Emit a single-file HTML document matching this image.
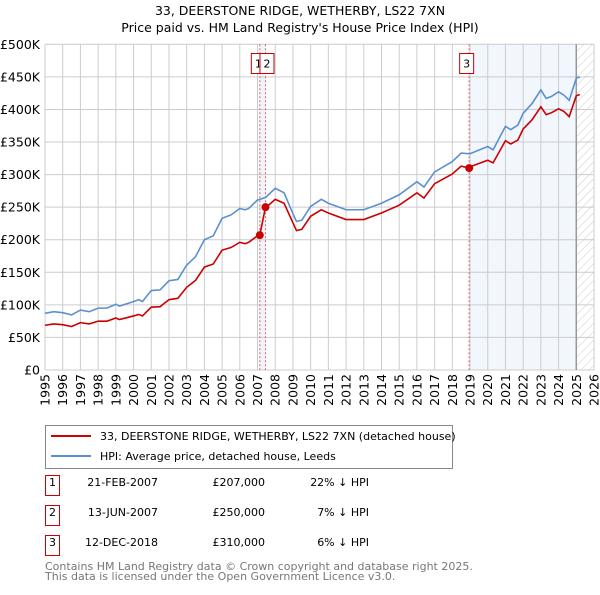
<!DOCTYPE html>
<html><head><meta charset="utf-8"><style>
body{margin:0;background:#fff;width:600px;height:590px;overflow:hidden;font-family:"Liberation Sans","DejaVu Sans",sans-serif}
svg text{font-family:"DejaVu Sans","Liberation Sans",sans-serif}
</style></head><body>
<svg id="c" width="600" height="590" xmlns="http://www.w3.org/2000/svg">
<defs><pattern id="hatch" patternUnits="userSpaceOnUse" width="6" height="6" patternTransform="rotate(45)"><line x1="0" y1="0" x2="0" y2="6" stroke="#ccc" stroke-width="1"/></pattern></defs>
<text x="300" y="15" text-anchor="middle" font-size="12.5">33, DEERSTONE RIDGE, WETHERBY, LS22 7XN</text>
<text x="300" y="32" text-anchor="middle" font-size="12.5">Price paid vs. HM Land Registry's House Price Index (HPI)</text>
<g id="plot"></g>
<rect x="45.5" y="425.5" width="407" height="43" fill="#fff" stroke="#888"/>
<line x1="51" y1="436" x2="91" y2="436" stroke="#cc0000" stroke-width="2"/>
<text x="100" y="440" font-size="11">33, DEERSTONE RIDGE, WETHERBY, LS22 7XN (detached house)</text>
<line x1="51" y1="456" x2="91" y2="456" stroke="#5b8fd4" stroke-width="2"/>
<text x="100" y="460" font-size="11">HPI: Average price, detached house, Leeds</text>
<g id="tbl" font-size="11"></g>
<text x="45" y="570" font-size="11" fill="#777">Contains HM Land Registry data © Crown copyright and database right 2025.</text>
<text x="45" y="580" font-size="11" fill="#777">This data is licensed under the Open Government Licence v3.0.</text>
</svg>
<script>
const years=[1995,1995.5,1996,1996.5,1997,1997.5,1998,1998.5,1999,1999.2,2000,2000.3,2000.5,2001,2001.5,2002,2002.5,2003,2003.5,2004,2004.5,2005,2005.5,2006,2006.3,2006.5,2007,2007.13,2007.45,2007.5,2008,2008.5,2009,2009.2,2009.5,2010,2010.6,2011,2012,2013,2014,2015,2016,2016.4,2017,2018,2018.5,2018.95,2019,2020,2020.3,2021,2021.3,2021.7,2022,2022.5,2023,2023.3,2023.6,2024,2024.3,2024.6,2025,2025.2];
const hpi=[87,89.5,88,84.5,92,89.5,95,95,101,98,105,108,105,122,123,137,139,161,174,200,206,233,238,248,246,248,261,262,265,266,279,272,240,228,230,251,262,256,246,246,256,269,289,281,304,320,333,332,332,343,338,374,369,376,394,409,430,417,420,427,422,414,448,450];
const price=[68.7,70.7,69.5,66.8,72.7,70.7,75,75,79.8,77.4,83,85.3,83,96.4,97.2,108,110,127,137.5,158,162.7,184,188,196,194,196,206,207,250,250,262,256,226,214,216,236,246,241,231,231,241,253,272,264,286,301,313,310,312,322,318,352,347,353,370,384,404,392,395,401,397,389,421,423];
const yTicks=[0,50,100,150,200,250,300,350,400,450,500];
const yLabels=["£0","£50K","£100K","£150K","£200K","£250K","£300K","£350K","£400K","£450K","£500K"];
const xTicks=[1995,1996,1997,1998,1999,2000,2001,2002,2003,2004,2005,2006,2007,2008,2009,2010,2011,2012,2013,2014,2015,2016,2017,2018,2019,2020,2021,2022,2023,2024,2025,2026];
const saleYears=[2007.13,2007.45,2018.95];
const salePrices=[207,250,310];
const saleDates=["21-FEB-2007","13-JUN-2007","12-DEC-2018"];
const saleAmounts=["£207,000","£250,000","£310,000"];
const saleDiffs=["22% ↓ HPI","7% ↓ HPI","6% ↓ HPI"];
const dataEnd=2025.0;
const X0=45,X1=594,Y0=370,Y1=44.3;
const sx=v=>X0+(v-1995)/(2026-1995)*(X1-X0);
const sy=v=>Y0-(v/500)*(Y0-Y1);
const NS="http://www.w3.org/2000/svg";
const g=document.getElementById('plot');
function mk(t,a,p){const e=document.createElementNS(NS,t);for(const k in a)e.setAttribute(k,a[k]);(p||g).appendChild(e);return e;}
let e;
e=mk('rect',{x:sx(saleYears[0]),y:Y1,width:sx(saleYears[1])-sx(saleYears[0]),height:Y0-Y1,fill:'#eef3fc'});


e=mk('rect',{x:sx(saleYears[2]),y:Y1,width:sx(dataEnd)-sx(saleYears[2]),height:Y0-Y1,fill:'#f2f6fd'});


e=mk('rect',{x:sx(dataEnd),y:Y1,width:X1-sx(dataEnd),height:Y0-Y1,fill:'url(#hatch)'});


yTicks.forEach((t,i)=>{
 e=mk('line',{x1:X0,x2:X1,y1:sy(t),y2:sy(t),stroke:'#ccc'});
 
 
 e=mk('text',{x:40,y:sy(t)+4.5,'text-anchor':'end','font-size':12.5});
 e.textContent=yLabels[i];
 
 
});
xTicks.forEach(t=>{
 e=mk('line',{x1:sx(t),x2:sx(t),y1:Y1,y2:Y0,stroke:'#ccc'});
 
 
 const x=sx(t)+4.5;
 e=mk('text',{x:x,y:374,'text-anchor':'end','font-size':12.5,transform:`rotate(-90 ${x} 374)`});
 e.textContent=t;
 
 
});
e=mk('line',{x1:sx(dataEnd),x2:sx(dataEnd),y1:Y1,y2:Y0,stroke:'#999','stroke-width':1.5});


saleYears.forEach((s,i)=>{
 e=mk('line',{x1:sx(s),x2:sx(s),y1:Y1,y2:Y0,stroke:'#e06060','stroke-dasharray':'2,2'});
 
 
});
e=mk('polyline',{points:years.map((y,i)=>sx(y)+','+sy(hpi[i])).join(' '),fill:'none',stroke:'#5b8fd4','stroke-width':1.6});


e=mk('polyline',{points:years.map((y,i)=>sx(y)+','+sy(price[i])).join(' '),fill:'none',stroke:'#cc0000','stroke-width':1.6});


saleYears.forEach((s,i)=>{
 e=mk('circle',{cx:sx(s),cy:sy(salePrices[i]),r:4,fill:'#cc0000'});
 
 
});
const lblX=[sx(saleYears[0])-9,sx(saleYears[1])-6,sx(saleYears[2])-10];
saleYears.forEach((s,i)=>{
 e=mk('rect',{x:lblX[i]+0.5,y:53.5,width:14,height:20,fill:'#fff',stroke:'#cc0000'});
 
 
 e=mk('text',{x:lblX[i]+7.5,y:67.5,'text-anchor':'middle','font-size':11});
 e.textContent=String(i+1);
 
 
});
const tb=document.getElementById('tbl');
const rowY=[485,515,545];
saleDates.forEach((d,i)=>{
 const y=rowY[i];
 e=mk('rect',{x:45.5,y:y-9.5,width:14,height:20,fill:'#fff',stroke:'#cc0000'},tb);
 
 
 e=mk('text',{x:52.5,y:y+1,'text-anchor':'middle'},tb);e.textContent=String(i+1);
 
 
 e=mk('text',{x:158,y:y+1,'text-anchor':'end'},tb);e.textContent=d;
 
 
 e=mk('text',{x:265,y:y+1,'text-anchor':'end'},tb);e.textContent=saleAmounts[i];
 
 
 e=mk('text',{x:369,y:y+1,'text-anchor':'end'},tb);e.textContent=saleDiffs[i];
 
 
});
</script>
</body></html>
